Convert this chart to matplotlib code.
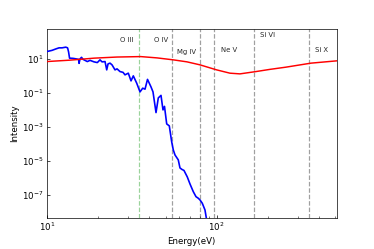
import matplotlib
matplotlib.use("Agg")
import matplotlib.pyplot as plt
from matplotlib.ticker import NullLocator, NullFormatter

# Blue spectrum
spec_E = [10.0, 10.74, 11.34, 11.81, 12.30, 12.94, 13.26, 13.44, 13.62, 14.28, 14.87,
          15.39, 15.49, 15.70, 16.02, 16.35, 17.33, 17.98, 18.97, 19.84, 20.58, 21.15,
          22.03, 22.54, 22.95, 23.57, 24.22, 25.22, 25.92, 26.99, 28.11, 28.88, 30.20,
          31.33, 32.32, 33.84, 35.39, 36.71, 37.87, 39.17, 41.07, 42.20, 43.96, 45.35,
          47.03, 48.32, 49.31, 50.81, 52.63, 54.37, 55.56, 56.85, 59.44, 60.83, 62.50,
          64.21, 67.15, 69.66, 72.85, 75.56, 77.96, 79.79, 82.30, 85.36, 87.70]
spec_I = [26.8, 31.6, 38.7, 44.4, 44.4, 48.7, 44.4, 25.8, 11.0, 10.7, 10.0,
          9.35, 5.44, 10.0, 12.3, 9.35, 6.94, 8.17, 6.67, 6.05, 8.74, 6.67,
          6.94, 2.25, 5.08, 5.59, 4.44, 2.25, 2.58, 1.79, 1.61, 1.15, 1.44,
          0.508, 1.0, 0.372, 0.1145, 0.189, 0.165, 0.622, 0.225, 0.1145, 0.00694, 0.0508,
          0.0713, 0.01, 0.0161, 0.0015, 0.00115, 1.31e-4, 4.44e-5, 2.25e-5, 1.15e-5, 3.87e-6, 3.16e-6,
          2.76e-6, 1.15e-6, 4.44e-7, 1.56e-7, 7.94e-8, 6.4e-8, 5.08e-8, 3.25e-8, 1.31e-8, 2.58e-9]

# Red smooth curve
red_E = [10.0, 13.71, 18.97, 25.92, 35.73, 44.57, 55.56, 66.87, 79.79, 100.0,
         119.7, 137.1, 170.3, 205.8, 255.6, 358.6, 508.0]
red_I = [6.94, 8.39, 11.0, 12.8, 13.6, 11.4, 8.74, 6.67, 4.44, 2.25,
         1.44, 1.31, 1.79, 2.41, 3.25, 5.59, 7.63]

# Ionization edges
ion_E = [35.1, 54.9, 80.1, 97.1, 166.8, 351.1]
ion_names = ["O III", "O IV", "Mg IV", "Ne V", "Si VI", "Si X"]
ion_colors = ["#9bd39b", "#a0a0a0", "#a0a0a0", "#a0a0a0", "#a0a0a0", "#a0a0a0"]
label_x = [27.0, 42.9, 58.6, 106.0, 180.0, 377.0]
label_y = [131.0, 131.0, 25.8, 35.2, 248.0, 35.2]

fig = plt.figure(figsize=(6, 4), dpi=374 / 6)
ax = fig.add_axes([0.125, 0.126, 0.775, 0.756])

ax.plot(spec_E, spec_I, color="blue", lw=1.9, zorder=3)
ax.plot(red_E, red_I, color="red", lw=1.7, zorder=3)

for e, c in zip(ion_E, ion_colors):
    ax.axvline(e, color=c, ls="--", lw=1.4, zorder=1)
for x, y, t in zip(label_x, label_y, ion_names):
    ax.text(x, y, t, fontsize=8, color="0.15", ha="left", va="center")

ax.set_xscale("log")
ax.set_yscale("log")
ax.set_xlim(10, 508)
ax.set_ylim(10 ** -8.33, 10 ** 2.75)
ax.yaxis.set_minor_locator(NullLocator())
ax.xaxis.set_minor_formatter(NullFormatter())
ax.tick_params(which="both", direction="in", top=False, right=False)
ax.set_xlabel("Energy(eV)")
ax.set_ylabel("Intensity")

fig.savefig("out.png", dpi=374 / 6)
